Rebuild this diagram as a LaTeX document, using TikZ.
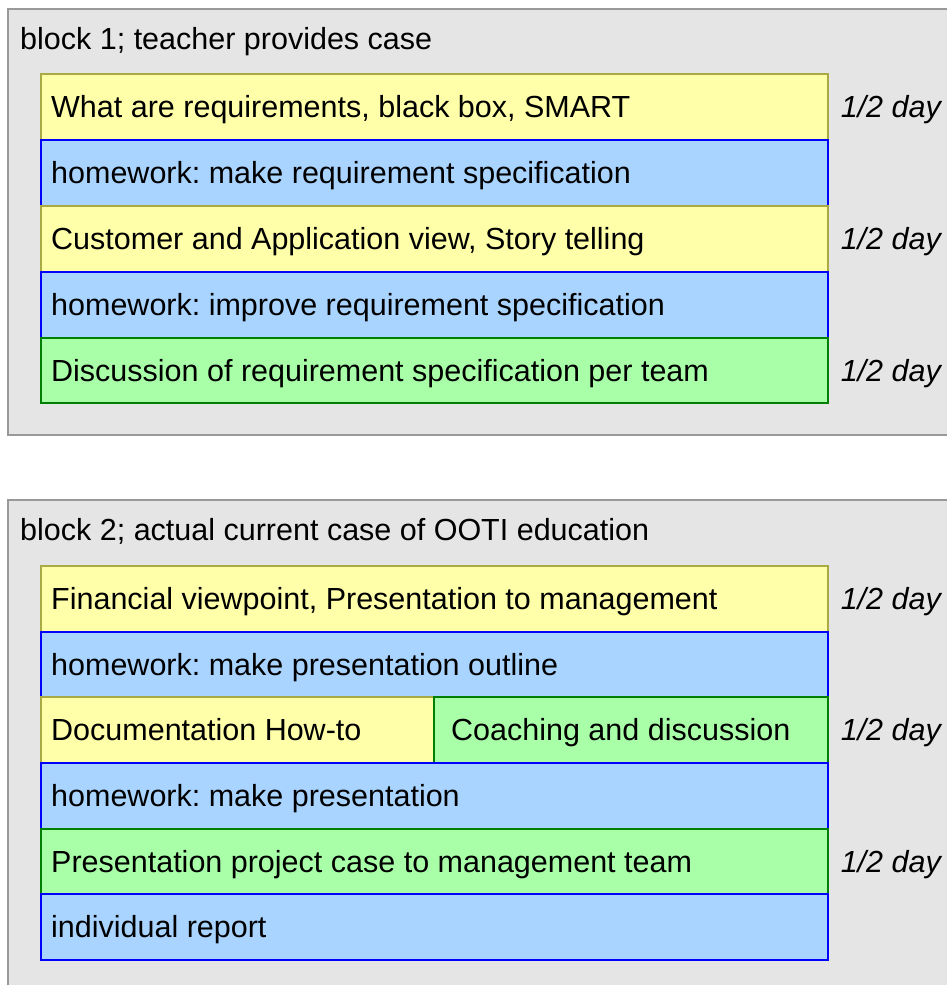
\documentclass[tikz,border=0pt]{standalone}
\usepackage{fontspec}
\setmainfont{Liberation Sans}
\frenchspacing
\begin{document}
\begin{tikzpicture}[x=1pt,y=-1pt,
  blk/.style={draw=gray!80,fill=black!10,line width=1.2pt},
  yel/.style={draw={rgb,255:red,170;green,170;blue,68},fill={rgb,255:red,255;green,255;blue,170},line width=1.2pt},
  blu/.style={draw=blue,fill={rgb,255:red,168;green,212;blue,255},line width=1.2pt},
  grn/.style={draw=green!50!black,fill={rgb,255:red,168;green,255;blue,168},line width=1.2pt},
  txt/.style={anchor=base west,font=\fontsize{30.5}{34}\selectfont,inner sep=0pt},
  day/.style={anchor=base east,font=\fontsize{30.5}{34}\selectfont\itshape,inner sep=0pt}]
\useasboundingbox (0,0) rectangle (947,985);
\fill[white] (0,0) rectangle (947,985);
% block 1
\draw[blk] (8,9) rectangle (960,435);
\node[txt] (t1) at (20,49) {block 1; teacher provides case};
\draw[yel] (41,74) rectangle (828,140);
\node[txt] (a1) at (51,117) {What are requirements, black box, SMART};
\draw[blu] (41,140) rectangle (828,206);
\node[txt] (a2) at (51,183) {homework: make requirement specification};
\draw[yel] (41,206) rectangle (828,272);
\node[txt] (a3) at (51,249) {Customer and Application view, Story telling};
\draw[blu] (41,272) rectangle (828,338);
\node[txt] (a4) at (51,315) {homework: improve requirement specification};
\draw[grn] (41,338) rectangle (828,403);
\node[txt] (a5) at (51,381) {Discussion of requirement specification per team};
\node[day] (d1) at (941,117) {1/2 day};
\node[day] (d2) at (941,249) {1/2 day};
\node[day] (d3) at (941,381) {1/2 day};
% block 2
\draw[blk] (8,500) rectangle (960,1000);
\node[txt] (t2) at (20,540) {block 2; actual current case of OOTI education};
\draw[yel] (41,566) rectangle (828,632);
\node[txt] (b1) at (51,609) {Financial viewpoint, Presentation to management};
\draw[blu] (41,632) rectangle (828,697);
\node[txt] (b2) at (51,675) {homework: make presentation outline};
\draw[yel] (41,697) rectangle (434,763);
\node[txt] (b3) at (51,740) {Documentation How-to};
\draw[grn] (434,697) rectangle (828,763);
\node[txt] (b4) at (451,740) {Coaching and discussion};
\draw[blu] (41,763) rectangle (828,829);
\node[txt] (b5) at (51,806) {homework: make presentation};
\draw[grn] (41,829) rectangle (828,894);
\node[txt] (b6) at (51,872) {Presentation project case to management team};
\draw[blu] (41,894) rectangle (828,960);
\node[txt] (b7) at (51,937) {individual report};
\node[day] (e1) at (941,609) {1/2 day};
\node[day] (e2) at (941,740) {1/2 day};
\node[day] (e3) at (941,872) {1/2 day};
\end{tikzpicture}
\end{document}
